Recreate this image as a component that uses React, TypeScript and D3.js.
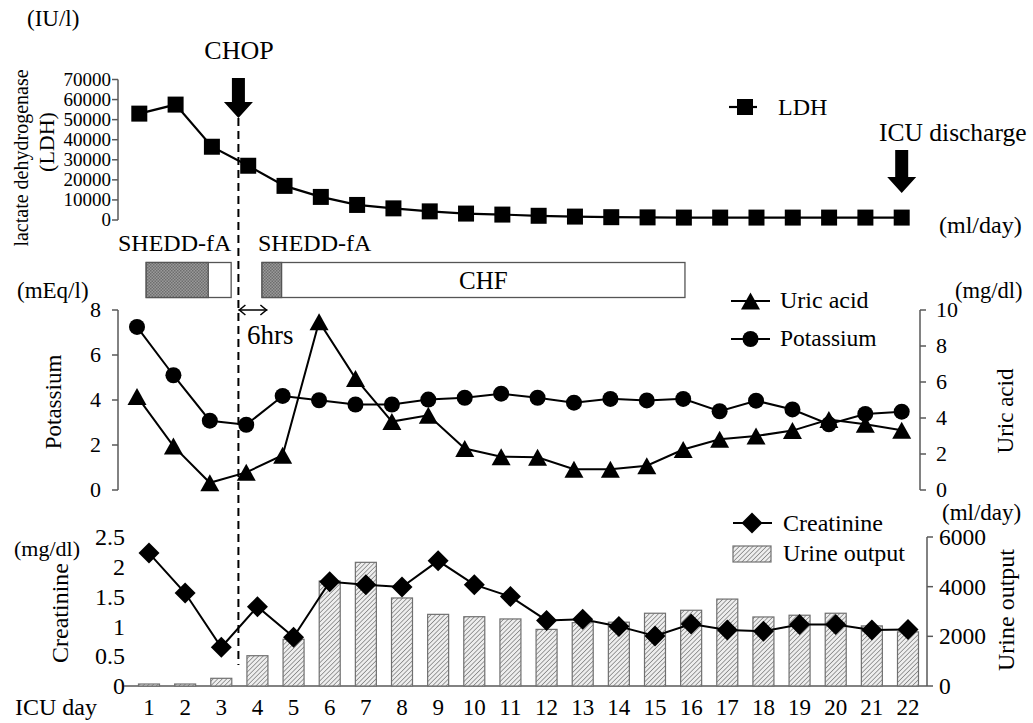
import React from "react";
import * as d3 from "d3";

const days = [1, 2, 3, 4, 5, 6, 7, 8, 9, 10, 11, 12, 13, 14, 15, 16, 17, 18, 19, 20, 21, 22];

const ldh = [53000, 57500, 36500, 27000, 17000, 11500, 7500, 5800, 4300, 3200, 2700, 2100, 1700, 1400, 1300, 1200, 1200, 1200, 1200, 1200, 1200, 1200];
const potassium = [7.25, 5.1, 3.08, 2.9, 4.18, 3.99, 3.8, 3.8, 4.02, 4.1, 4.28, 4.1, 3.88, 4.05, 3.98, 4.05, 3.5, 3.97, 3.58, 2.92, 3.38, 3.48];
const uricAcid = [5.2, 2.44, 0.4, 0.98, 1.93, 9.35, 6.2, 3.8, 4.15, 2.3, 1.85, 1.82, 1.15, 1.15, 1.35, 2.25, 2.82, 3.0, 3.3, 3.92, 3.65, 3.32];
const creatinine = [2.23, 1.56, 0.65, 1.33, 0.82, 1.75, 1.7, 1.66, 2.1, 1.7, 1.5, 1.1, 1.12, 1.0, 0.84, 1.04, 0.94, 0.92, 1.03, 1.03, 0.94, 0.95];
const urineOutput = [80, 80, 310, 1220, 1880, 4230, 4980, 3545, 2885, 2790, 2700, 2280, 2550, 2570, 2930, 3050, 3500, 2780, 2850, 2930, 2420, 2180];

const ldhTicks = [0, 10000, 20000, 30000, 40000, 50000, 60000, 70000];
const potassiumTicks = [0, 2, 4, 6, 8];
const uricTicks = [0, 2, 4, 6, 8, 10];
const creatinineTicks = [0, 0.5, 1, 1.5, 2, 2.5];
const urineTicks = [0, 2000, 4000, 6000];

// therapy periods in ICU-day units: hatched SHEDD-fA part, then CHF
const therapyStart = [1.19, 4.38];
const therapySheddEnd = [2.9, 4.92];
const therapyEnd = [3.53, 16.03];
const chopDay = 3.73;
const dischargeDay = 22;

const W = 1033;
const H = 723;
const FONT = "Liberation Serif, Times New Roman, serif";
const AXIS = "#595959";

const xTop = d3.scaleLinear().domain([1, 22]).range([139.3, 901.7]);
const xMid = d3.scaleLinear().domain([1, 22]).range([137, 901.7]);
const xBot = d3.scaleLinear().domain([1, 22]).range([149, 908]);

const yLdh = d3.scaleLinear().domain([0, 70000]).range([220, 79.5]);
const yK = d3.scaleLinear().domain([0, 8]).range([490, 310]);
const yUric = d3.scaleLinear().domain([0, 10]).range([490, 310]);
const yCreat = d3.scaleLinear().domain([0, 2.5]).range([686, 537]);
const yUrine = d3.scaleLinear().domain([0, 6000]).range([686, 537]);

const square = (x: number, y: number, s = 16) =>
  `M${x - s / 2},${y - s / 2}h${s}v${s}h${-s}Z`;
const triangle = (x: number, y: number, w = 19, h = 17) =>
  `M${x},${y - h / 2}L${x + w / 2},${y + h / 2}L${x - w / 2},${y + h / 2}Z`;
const diamond = (x: number, y: number, r = 10.5) =>
  `M${x},${y - r}L${x + r},${y}L${x},${y + r}L${x - r},${y}Z`;

function DownArrow({ x, top, bottom }: { x: number; top: number; bottom: number }) {
  const headH = 16;
  const shaft = 6.5;
  const head = 14.5;
  const hy = bottom - headH;
  return (
    <path
      d={`M${x - shaft},${top}H${x + shaft}V${hy}H${x + head}L${x},${bottom}L${x - head},${hy}H${x - shaft}Z`}
      fill="#000"
    />
  );
}

function LeftAxis({ scale, ticks, x, size, labelX, tickLen = 6, line = true }: any) {
  const [r0, r1] = scale.range();
  return (
    <g>
      {line && <line x1={x} x2={x} y1={r0} y2={r1} stroke={AXIS} strokeWidth={1.5} />}
      {ticks.map((t: number) => (
        <g key={t}>
          {line && <line x1={x - tickLen} x2={x} y1={scale(t)} y2={scale(t)} stroke={AXIS} strokeWidth={1.5} />}
          <text x={labelX} y={scale(t)} dy="0.34em" textAnchor="end" fontSize={size}>
            {t}
          </text>
        </g>
      ))}
    </g>
  );
}

function RightAxis({ scale, ticks, x, size, labelX, tickLen = 6 }: any) {
  const [r0, r1] = scale.range();
  return (
    <g>
      <line x1={x} x2={x} y1={r0} y2={r1} stroke={AXIS} strokeWidth={1.5} />
      {ticks.map((t: number) => (
        <g key={t}>
          <line x1={x} x2={x + tickLen} y1={scale(t)} y2={scale(t)} stroke={AXIS} strokeWidth={1.5} />
          <text x={labelX} y={scale(t)} dy="0.34em" textAnchor="start" fontSize={size}>
            {t}
          </text>
        </g>
      ))}
    </g>
  );
}

export default function App() {
  const ldhLine = d3.line<number>().x((_, i) => xTop(days[i])).y((d) => yLdh(d));
  const kLine = d3.line<number>().x((_, i) => xMid(days[i])).y((d) => yK(d));
  const uricLine = d3.line<number>().x((_, i) => xMid(days[i])).y((d) => yUric(d));
  const creatLine = d3.line<number>().x((_, i) => xBot(days[i])).y((d) => yCreat(d));
  const barW = 21;
  const dashX = xTop(chopDay);

  return (
    <svg
      width={W}
      height={H}
      style={{ position: "absolute", left: 0, top: 0, background: "#fff", fontFamily: FONT }}
    >
      <defs>
        <pattern id="hatch" width="3.2" height="3.2" patternUnits="userSpaceOnUse" patternTransform="rotate(45)">
          <rect width="3.2" height="3.2" fill="#eeeeee" />
          <line x1="0" y1="0" x2="0" y2="3.2" stroke="#666" strokeWidth="1.2" />
        </pattern>
        <pattern id="dots" width="3" height="3" patternUnits="userSpaceOnUse">
          <rect width="3" height="3" fill="#9a9a9a" />
          <rect width="1.5" height="1.5" fill="#6e6e6e" />
          <rect x="1.5" y="1.5" width="1.5" height="1.5" fill="#6e6e6e" />
        </pattern>
      </defs>
      <rect width={W} height={H} fill="#fff" />

      {/* ---------- LDH panel ---------- */}
      <text x={27} y={26} fontSize={23}>(IU/l)</text>
      <text x={239} y={59} fontSize={26} textAnchor="middle">CHOP</text>
      <DownArrow x={dashX} top={78} bottom={118} />
      <text transform="translate(28,158) rotate(-90)" textAnchor="middle" fontSize={20}>
        lactate dehydrogenase
      </text>
      <text transform="translate(54,142) rotate(-90)" textAnchor="middle" fontSize={22}>
        (LDH)
      </text>
      <LeftAxis scale={yLdh} ticks={ldhTicks} x={118} size={19} labelX={111} />
      <path d={ldhLine(ldh) || ""} fill="none" stroke="#000" strokeWidth={2.2} />
      {ldh.map((v, i) => (
        <path key={i} d={square(xTop(days[i]), yLdh(v))} fill="#000" />
      ))}
      <line x1={729} x2={757} y1={107} y2={107} stroke="#000" strokeWidth={2.2} />
      <path d={square(745, 107)} fill="#000" />
      <text x={778} y={115} fontSize={24}>LDH</text>
      <text x={879} y={141} fontSize={25.5}>ICU discharge</text>
      <DownArrow x={xTop(dischargeDay)} top={150} bottom={193} />
      <text x={939} y={233} fontSize={24}>(ml/day)</text>

      {/* ---------- therapy bars ---------- */}
      <text x={118} y={251} fontSize={24}>SHEDD-fA</text>
      <text x={258} y={251} fontSize={24}>SHEDD-fA</text>
      {therapyStart.map((s, i) => (
        <g key={i}>
          <rect x={xTop(s)} y={262.5} width={xTop(therapyEnd[i]) - xTop(s)} height={35} fill="#fff" stroke="#555" strokeWidth={1.3} />
          <rect x={xTop(s)} y={262.5} width={xTop(therapySheddEnd[i]) - xTop(s)} height={35} fill="url(#dots)" stroke="#555" strokeWidth={1.3} />
        </g>
      ))}
      <text x={(xTop(therapySheddEnd[1]) + xTop(therapyEnd[1])) / 2} y={289} fontSize={25} textAnchor="middle">CHF</text>

      {/* ---------- Potassium / uric acid panel ---------- */}
      <text x={17} y={298} fontSize={23}>(mEq/l)</text>
      <text x={955} y={298} fontSize={22.5}>(mg/dl)</text>
      <LeftAxis scale={yK} ticks={potassiumTicks} x={118} size={22} labelX={101} />
      <RightAxis scale={yUric} ticks={uricTicks} x={920} size={22} labelX={936} />
      <text transform="translate(61,402) rotate(-90)" textAnchor="middle" fontSize={23}>Potassium</text>
      <text transform="translate(1013,411) rotate(-90)" textAnchor="middle" fontSize={23}>Uric acid</text>

      <path d={uricLine(uricAcid) || ""} fill="none" stroke="#000" strokeWidth={2} />
      <path d={kLine(potassium) || ""} fill="none" stroke="#000" strokeWidth={2} />
      {uricAcid.map((v, i) => (
        <path key={"u" + i} d={triangle(xMid(days[i]), yUric(v))} fill="#000" />
      ))}
      {potassium.map((v, i) => (
        <circle key={"k" + i} cx={xMid(days[i])} cy={yK(v)} r={8} fill="#000" />
      ))}

      <line x1={731} x2={770} y1={301} y2={301} stroke="#000" strokeWidth={2} />
      <path d={triangle(750.5, 301)} fill="#000" />
      <text x={780} y={308} fontSize={24}>Uric acid</text>
      <line x1={731} x2={770} y1={339} y2={339} stroke="#000" strokeWidth={2} />
      <circle cx={750.5} cy={339} r={8} fill="#000" />
      <text x={780} y={346} fontSize={23.5}>Potassium</text>

      {/* 6 hrs marker */}
      <line x1={dashX} x2={dashX + 29} y1={310} y2={310} stroke="#000" strokeWidth={1.5} />
      <path d={`M${dashX + 7},${305}L${dashX + 1},${310}L${dashX + 7},${315}`} fill="none" stroke="#000" strokeWidth={1.5} />
      <path d={`M${dashX + 22},${305}L${dashX + 28},${310}L${dashX + 22},${315}`} fill="none" stroke="#000" strokeWidth={1.5} />
      <text x={247} y={344} fontSize={27}>6hrs</text>

      {/* ---------- Creatinine / urine panel ---------- */}
      <text x={942} y={520} fontSize={23}>(ml/day)</text>
      <text x={14} y={556} fontSize={22}>(mg/dl)</text>
      <LeftAxis scale={yCreat} ticks={creatinineTicks} x={124} size={24} labelX={125} line={false} />
      <RightAxis scale={yUrine} ticks={urineTicks} x={927} size={23.5} labelX={939} />
      <line x1={124} x2={927} y1={686} y2={686} stroke={AXIS} strokeWidth={1.5} />
      <text transform="translate(68,613) rotate(-90)" textAnchor="middle" fontSize={24}>Creatinine</text>
      <text transform="translate(1014,610) rotate(-90)" textAnchor="middle" fontSize={24}>Urine output</text>

      {urineOutput.map((v, i) => (
        <rect
          key={"b" + i}
          x={xBot(days[i]) - barW / 2}
          y={yUrine(v)}
          width={barW}
          height={yUrine(0) - yUrine(v)}
          fill="url(#hatch)"
          stroke="#707070"
          strokeWidth={1.2}
        />
      ))}
      <path d={creatLine(creatinine) || ""} fill="none" stroke="#000" strokeWidth={2} />
      {creatinine.map((v, i) => (
        <path key={"c" + i} d={diamond(xBot(days[i]), yCreat(v))} fill="#000" />
      ))}

      <line x1={733} x2={772} y1={523} y2={523} stroke="#000" strokeWidth={2} />
      <path d={diamond(752, 523)} fill="#000" />
      <text x={783} y={531} fontSize={24}>Creatinine</text>
      <rect x={733} y={546} width={38} height={16} fill="url(#hatch)" stroke="#707070" strokeWidth={1.2} />
      <text x={783} y={561} fontSize={24}>Urine output</text>

      <text x={15} y={715} fontSize={24}>ICU day</text>
      {days.map((d) => (
        <text key={"d" + d} x={xBot(d)} y={715} fontSize={23} textAnchor="middle">
          {d}
        </text>
      ))}

      {/* CHOP dashed line */}
      <line x1={dashX} x2={dashX} y1={118} y2={665} stroke="#000" strokeWidth={2} strokeDasharray="8 5" />
    </svg>
  );
}
